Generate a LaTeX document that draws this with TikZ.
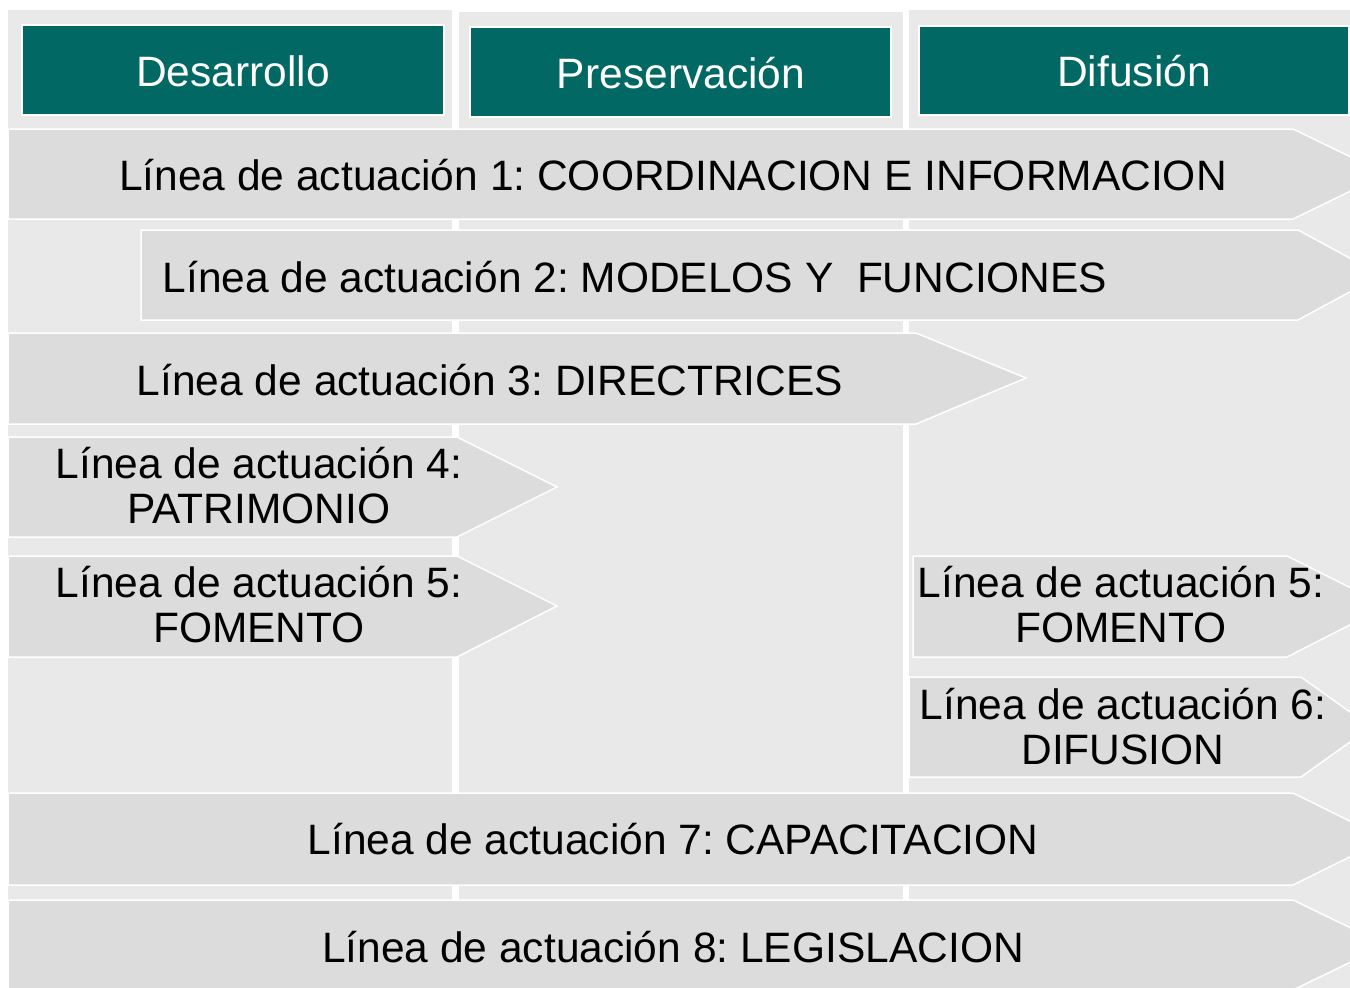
\documentclass[tikz,border=0pt]{standalone}
\usepackage{fontspec}
\setmainfont{Liberation Sans}
\frenchspacing
\definecolor{teal}{HTML}{026864}
\definecolor{colbg}{HTML}{E9E9E9}
\definecolor{arrowbg}{HTML}{DCDCDC}
\begin{document}
\begin{tikzpicture}[x=1pt,y=-1pt,
  colbox/.style={fill=colbg,draw=none},
  headbox/.style={fill=teal,draw=white,line width=1.2pt},
  arrowshape/.style={fill=arrowbg,draw=white,line width=1.5pt,line join=miter},
  headtext/.style={text=white,font=\fontsize{42.5}{45}\selectfont\frenchspacing,inner sep=0pt,anchor=base},
  armtext/.style={text=black,font=\fontsize{42.5}{45}\selectfont\frenchspacing,inner sep=0pt,anchor=base,align=center}]
\useasboundingbox (0,0) rectangle (1350,988);
\clip (0,0) rectangle (1350,988);
\fill[white] (0,0) rectangle (1350,988);
% columns
\fill[colbox] (8,10) rectangle (452,988);
\fill[colbox] (459,12) rectangle (903,988);
\fill[colbox] (909,10) rectangle (1352,988);
% headers
\draw[headbox] (22,25) rectangle (444,115);
\draw[headbox] (470,27) rectangle (891,117);
\draw[headbox] (919,26) rectangle (1349,115);
\node[headtext] (h1) at (233,86) {Desarrollo};
\node[headtext] (h2) at (681,88) {Preservación};
\node[headtext] (h3) at (1134,86) {Difusión};
% arrows
\draw[arrowshape] (8,129) -- (1293,129) -- (1386,174) -- (1293,219) -- (8,219) -- cycle;
\draw[arrowshape] (141,230) -- (1298,230) -- (1381,275) -- (1298,320) -- (141,320) -- cycle;
\draw[arrowshape] (8,333) -- (916,333) -- (1026,378) -- (916,424) -- (8,424) -- cycle;
\draw[arrowshape] (8,437) -- (457,437) -- (557,487) -- (457,537) -- (8,537) -- cycle;
\draw[arrowshape] (8,556) -- (457,556) -- (557,606) -- (457,657) -- (8,657) -- cycle;
\draw[arrowshape] (913,556) -- (1287,556) -- (1387,606) -- (1287,657) -- (913,657) -- cycle;
\draw[arrowshape] (909,677) -- (1301,677) -- (1371,727) -- (1301,777) -- (909,777) -- cycle;
\draw[arrowshape] (8,793) -- (1293,793) -- (1386,839) -- (1293,885) -- (8,885) -- cycle;
\draw[arrowshape] (8,900) -- (1293,900) -- (1386,945) -- (1293,990) -- (8,990) -- cycle;
% labels
\node[armtext] (l1) at (673,190) {Línea de actuación 1: COORDINACION E INFORMACION};
\node[armtext] (l2) at (635,292) {Línea de actuación 2: MODELOS Y~ FUNCIONES};
\node[armtext] (l3) at (490,395) {Línea de actuación 3: DIRECTRICES};
\node[armtext] (l4) at (259,523) {Línea de actuación 4:\\PATRIMONIO};
\node[armtext] (l5a) at (259,642) {Línea de actuación 5:\\FOMENTO};
\node[armtext] (l5b) at (1121,642) {Línea de actuación 5:\\FOMENTO};
\node[armtext] (l6) at (1123,764) {Línea de actuación 6:\\DIFUSION};
\node[armtext] (l7) at (673,854) {Línea de actuación 7: CAPACITACION};
\node[armtext] (l8) at (673,962) {Línea de actuación 8: LEGISLACION};
\end{tikzpicture}
\end{document}
